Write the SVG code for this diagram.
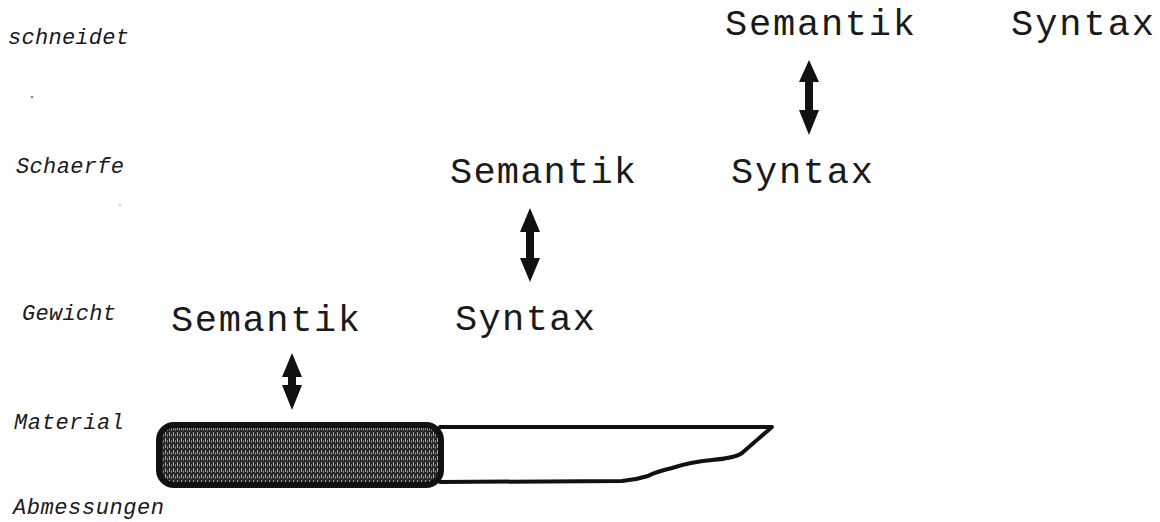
<svg xmlns="http://www.w3.org/2000/svg" width="1160" height="522" viewBox="0 0 1160 522">
  <defs>
    <pattern id="grip" width="4" height="6" patternUnits="userSpaceOnUse">
      <rect width="4" height="6" fill="#262626"/>
      <rect x="1" y="0" width="1" height="4" fill="#a8a8a8"/>
      <rect x="3" y="2" width="1" height="3" fill="#7a7a7a"/>
    </pattern>
  </defs>
  <style>
    .big { font-family: "Liberation Mono", "DejaVu Sans Mono", monospace; font-size: 37px; fill: #1a1a1a; }
    .lbl { font-family: "Liberation Mono", "DejaVu Sans Mono", monospace; font-size: 22px; font-style: italic; fill: #1a1a1a; }
    .arrow { fill: #111; }
    .outline { fill: none; stroke: #111; stroke-width: 4; stroke-linejoin: round; stroke-linecap: round; }
  </style>
  <rect width="1160" height="522" fill="#fff"/>

  <!-- property labels along the left -->
  <g id="labels">
    <text class="lbl" x="8" y="44" textLength="121" lengthAdjust="spacing">schneidet</text>
    <text class="lbl" x="16" y="173" textLength="108" lengthAdjust="spacing">Schaerfe</text>
    <text class="lbl" x="22" y="320" textLength="94" lengthAdjust="spacing">Gewicht</text>
    <text class="lbl" x="14" y="429" textLength="110" lengthAdjust="spacing">Material</text>
    <text class="lbl" x="13" y="514" textLength="151" lengthAdjust="spacing">Abmessungen</text>
    <ellipse cx="32" cy="97" rx="1.3" ry="0.8" fill="#333"/>
    <ellipse cx="120" cy="205" rx="0.9" ry="0.6" fill="#666"/>
  </g>

  <!-- level 3 -->
  <g id="sem1"><text class="big" x="725" y="35" textLength="190" lengthAdjust="spacing">Semantik</text></g>
  <g id="syn1"><text class="big" x="1011" y="35" textLength="143" lengthAdjust="spacing">Syntax</text></g>
  <!-- level 2 -->
  <g id="sem2"><text class="big" x="450" y="183" textLength="186" lengthAdjust="spacing">Semantik</text></g>
  <g id="syn2"><text class="big" x="731" y="183" textLength="142" lengthAdjust="spacing">Syntax</text></g>
  <!-- level 1 -->
  <g id="sem3"><text class="big" x="171" y="331" textLength="189" lengthAdjust="spacing">Semantik</text></g>
  <g id="syn3"><text class="big" x="455" y="330" textLength="140" lengthAdjust="spacing">Syntax</text></g>

  <!-- double-headed arrows between meaning and form -->
  <g id="connectors">
    <polygon class="arrow" points="809,60 819,82 813,82 813,110 819,110 809,135 799,110 805,110 805,82 799,82"/>
    <polygon class="arrow" points="530,208 540,232 534,232 534,258 540,258 530,282 520,258 526,258 526,232 520,232"/>
    <polygon class="arrow" points="292,353 302,377 296,377 296,385 302,385 292,410 282,385 288,385 288,377 282,377"/>
  </g>

  <!-- knife: blade and handle -->
  <g id="knife">
    <path class="outline" d="M440,427 L772,427 L742,453 Q735,458 712,460 Q690,462 672,468 Q655,472 648,476 Q635,480 622,481 L440,482"/>
    <rect x="159" y="425" width="282" height="60" rx="15" ry="15" fill="url(#grip)" stroke="#111" stroke-width="6"/>
  </g>
</svg>
